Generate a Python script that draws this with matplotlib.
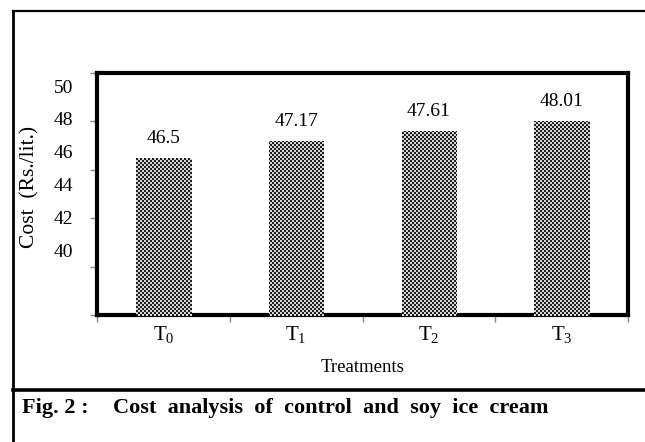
"""
Cost analysis of control and soy ice cream (bar chart with checkered bars).
"""
import matplotlib
matplotlib.use('Agg')
import matplotlib.pyplot as plt
import numpy as np
from matplotlib.lines import Line2D

# Data
treatments = [r'$\mathrm{T}_{0}$', r'$\mathrm{T}_{1}$', r'$\mathrm{T}_{2}$', r'$\mathrm{T}_{3}$']
cost = [46.5, 47.17, 47.61, 48.01]
value_labels = ['46.5', '47.17', '47.61', '48.01']
y_ticks = [40, 42, 44, 46, 48, 50]

plt.rcParams['font.family'] = ['Liberation Serif', 'DejaVu Serif']
plt.rcParams['mathtext.fontset'] = 'custom'
plt.rcParams['mathtext.rm'] = 'Liberation Serif'

W, H = 645, 442
fig = plt.figure(figsize=(W / 100, H / 100), dpi=100)
ax = fig.add_axes([97 / W, 1 - 315 / H, 531 / W, 242 / H])

x = np.arange(len(cost))
bars = ax.bar(x, [c - 40 for c in cost], bottom=40, width=0.41,
              color='none', edgecolor='none')

ax.set_xlim(-0.5, len(cost) - 0.5)
ax.set_ylim(40, 50)

# checkerboard fill (2 px cells), placed pixel-for-pixel and clipped to each bar
ii, jj = np.indices((H, W))
checker = ((ii // 2 + jj // 2) % 2).astype(float)
cmap = matplotlib.colors.ListedColormap(['#d4d4d4', '#1e1e1e'])
for b in bars:
    im = fig.figimage(checker, cmap=cmap, zorder=1)
    im.set_clip_path(b)

# value labels above bars
for b, lab in zip(bars, value_labels):
    ax.annotate(lab, xy=(b.get_x() + b.get_width() / 2, b.get_y() + b.get_height()),
                xytext=(0, 8), textcoords='offset points',
                ha='center', va='bottom', fontsize=14)

# thick frame
for s in ax.spines.values():
    s.set_linewidth(3)
    s.set_color('black')

# y ticks (marks only); labels sit where the original print placed them
ax.set_yticks(y_ticks)
ax.set_yticklabels([])
ax.tick_params(axis='y', direction='out', length=5, width=1, color='#888888')
for v in y_ticks:
    ax.text(-0.045, 0.26 + (v - 40) * 0.0678, str(v), transform=ax.transAxes,
            ha='right', va='center', fontsize=14)

# x ticks: labels at centres, small marks at category boundaries
ax.set_xticks(x)
ax.set_xticklabels(treatments, fontsize=15)
ax.set_xticks(np.arange(len(cost) + 1) - 0.5, minor=True)
ax.tick_params(axis='x', which='major', length=0, pad=7)
ax.tick_params(axis='x', which='minor', direction='out', length=5, width=1,
               color='#888888')
ax.set_xlabel('Treatments', fontsize=13.5, labelpad=9)

fig.text(30 / W, 1 - 187 / H, 'Cost  (Rs./lit.)', rotation=90,
         ha='center', va='center', fontsize=15.5)

# outer frame and caption separator
fig.add_artist(Line2D([13 / W, 13 / W], [0, 1 - 11 / H], color='black', lw=2))
fig.add_artist(Line2D([13 / W, 1], [1 - 11 / H, 1 - 11 / H], color='black', lw=1.6))
fig.add_artist(Line2D([13 / W, 1], [1 - 390 / H, 1 - 390 / H], color='black', lw=2.6))

fig.text(22 / W, 1 - 408 / H, 'Fig. 2 :', fontsize=16, fontweight='bold',
         ha='left', va='center')
fig.text(113 / W, 1 - 408 / H, 'Cost  analysis  of  control  and  soy  ice  cream',
         fontsize=16, fontweight='bold', ha='left', va='center')

fig.savefig('out.png', dpi=100)
